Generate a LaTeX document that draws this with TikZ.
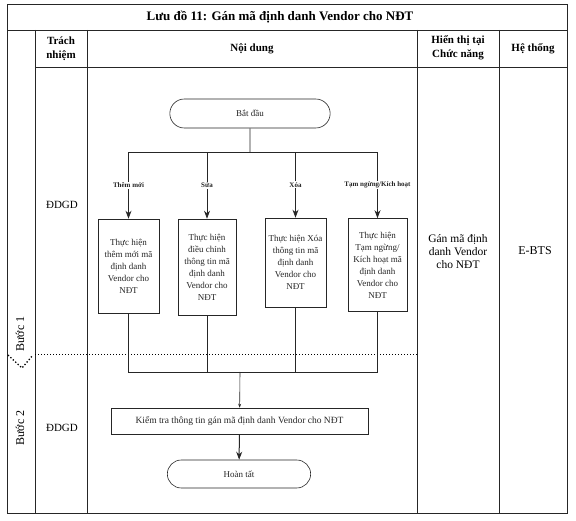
\documentclass[tikz,border=0pt]{standalone}
\usepackage{fontspec}
\setmainfont{Liberation Serif}
\usetikzlibrary{positioning,arrows.meta,shapes.misc}

\begin{document}
\begin{tikzpicture}[x=1pt,y=-1pt,>={Stealth[length=8pt,width=6pt]},
        rule/.style={line width=0.6pt,black!85},
        task/.style={draw,rule,align=center,inner sep=1pt,font=\fontsize{9}{12}\selectfont},
        term/.style={draw,rule,rounded rectangle,font=\fontsize{9}{11}\selectfont},
        choice/.style={fill=white,inner sep=1pt,font=\bfseries\fontsize{7}{8}\selectfont},
        head/.style={align=center,font=\bfseries\fontsize{11}{14}\selectfont},
        cell/.style={align=center,font=\fontsize{11.5}{13}\selectfont}]
        \useasboundingbox (0,0) rectangle (576,521);
        % bang
        \draw[rule] (7,4) rectangle (567,513);
        \draw[rule] (7,30)--(567,30);
        \draw[rule] (35,67)--(567,67);
        \foreach \x in {35,87,417,499}
            {
                \draw[rule] (\x,30)--(\x,513);
            }
        \draw[dotted,line width=1pt] (35,355)--(417,355);
        \draw[dotted,line width=1.3pt] (8,355)--(22,368)--(33,355);
        \node[font=\bfseries\fontsize{13}{15}\selectfont] (title) at (280,17) {Lưu đồ 11: Gán mã định danh Vendor cho NĐT};
        \node[head] (hresp) at (61,49) {Trách\\nhiệm};
        \node[head] (hbody) at (252,49) {Nội dung};
        \node[head] (hshow) at (458,48) {Hiển thị tại\\Chức năng};
        \node[head] (hsys) at (533,49) {Hệ thống};
        \node[cell,font=\fontsize{12}{14}\selectfont,rotate=90] (step1) at (20,334) {Bước 1};
        \node[cell,font=\fontsize{12}{14}\selectfont,rotate=90] (step2) at (20,428) {Bước 2};
        \node[cell,font=\fontsize{11}{13}\selectfont] (resp1) at (62,205) {ĐDGD};
        \node[cell,font=\fontsize{11}{13}\selectfont] (resp2) at (62,428) {ĐDGD};
        \node[cell] (show) at (458,252) {Gán mã định\\danh Vendor\\cho NĐT};
        \node[cell,font=\fontsize{12}{14}\selectfont] (sys) at (535,251) {E-BTS};
        % luu do
        \node[term,minimum width=167,minimum height=29] (start) at (250,113.5) {Bắt đầu};
        \node[task,minimum width=61,minimum height=94] (add) at (128.5,266) {Thực hiện\\thêm mới mã\\định danh\\Vendor cho\\NĐT};
        \node[task,minimum width=58,minimum height=96] (edit) at (207,267) {Thực hiện\\điều chỉnh\\thông tin mã\\định danh\\Vendor cho\\NĐT};
        \node[task,minimum width=61,minimum height=89] (del) at (295.5,262.5) {Thực hiện Xóa\\thông tin mã\\định danh\\Vendor cho\\NĐT};
        \node[task,minimum width=59,minimum height=93] (pause) at (377.5,265) {Thực hiện\\Tạm ngừng/\\Kích hoạt mã\\định danh\\Vendor cho\\NĐT};
        \node[task,minimum width=257,minimum height=26,font=\fontsize{9.5}{11}\selectfont] (check) at (239.5,421) {Kiểm tra thông tin gán mã định danh Vendor cho NĐT};
        \node[term,minimum width=150,minimum height=28] (done) at (239,474) {Hoàn tất};
        \coordinate (fork) at (250,152);
        \coordinate (join) at (240,372);
        \draw[rule] (start)--(fork);
        \draw[rule,line width=0.8pt,->] (fork) -| node[choice,pos=0.75] {Thêm mới} (add);
        \draw[rule,line width=0.8pt,->] (fork) -| node[choice,pos=0.75] {Sửa} (edit);
        \draw[rule,line width=0.8pt,->] (fork) -| node[choice,pos=0.75] {Xóa} (del);
        \draw[rule,line width=0.8pt,->] (fork) -| node[choice,pos=0.75] {Tạm ngừng/Kích hoạt} (pause);
        \foreach \b in {add,edit,del,pause}
            {
                \draw[rule] (\b) |- (join);
            }
        \draw[rule,->,>={Stealth[length=4pt,width=3pt]}] (join)--(check);
        \draw[rule,line width=1pt,->] (check)--(done);
    \end{tikzpicture}
\end{document}
